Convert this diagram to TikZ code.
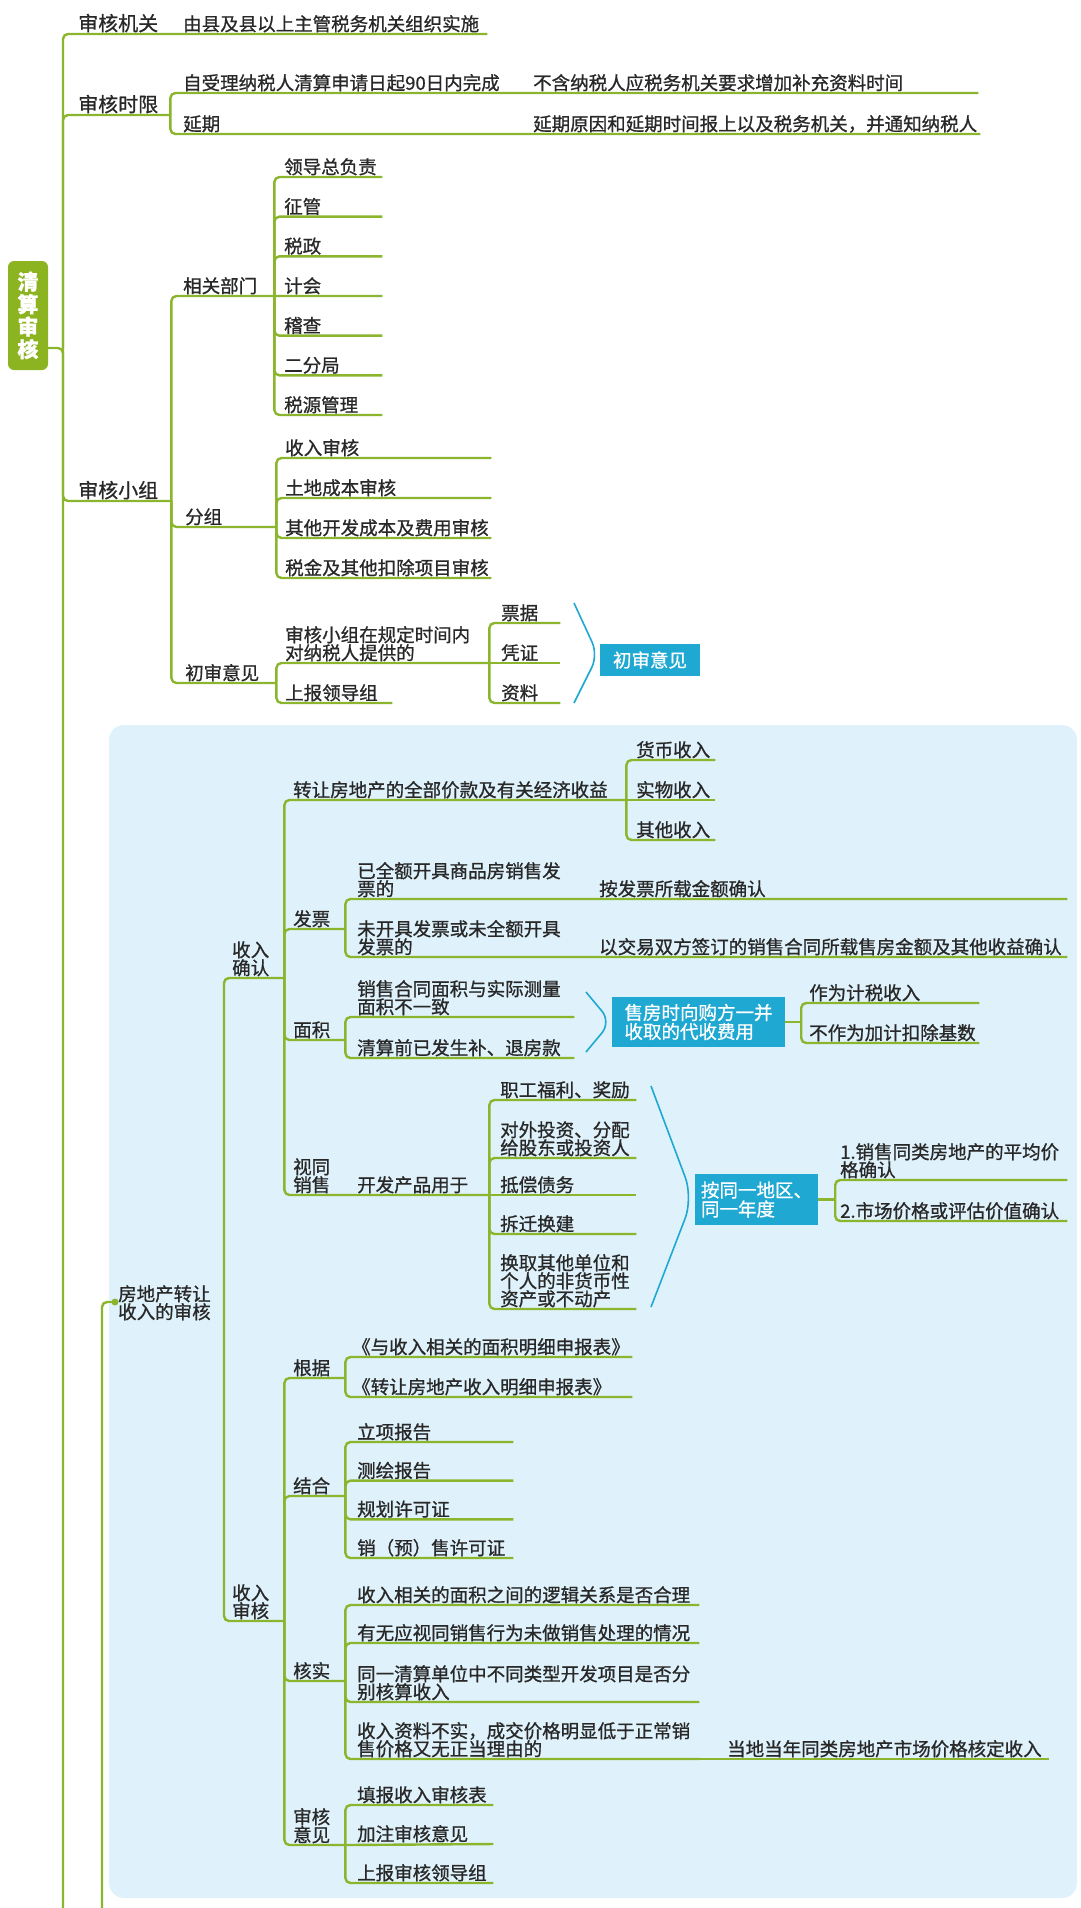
\documentclass[tikz,border=0pt]{standalone}
\usepackage{fontspec}
\newfontfamily\cjk[FakeBold=0.9]{Noto Sans CJK SC}

\definecolor{branchgreen}{RGB}{139,181,44}
\definecolor{rootgreen}{RGB}{139,180,32}
\definecolor{sumblue}{RGB}{30,168,210}
\definecolor{zonebg}{RGB}{223,242,251}
\definecolor{ink}{RGB}{40,40,40}

\newcommand\tb[2]{\parbox[b]{#1pt}{\raggedright #2}}

\tikzset{
	topic/.style={anchor=south west, inner xsep=0pt, inner ysep=3pt, text depth=0pt, text=ink, font=\cjk\fontsize{18.5}{18}\selectfont},
	maintopic/.style={topic, font=\cjk\fontsize{20}{20}\selectfont},
	branch/.style={draw=branchgreen, line width=2.4pt, rounded corners=5pt},
	summary/.style={fill=sumblue, text=white, inner sep=0pt, align=left, font=\cjk\fontsize{18.5}{19}\selectfont},
	brace/.style={draw=sumblue, line width=1.6pt, rounded corners=14pt},
}

\begin{document}
\begin{tikzpicture}[x=1pt,y=-1pt]
	\useasboundingbox (0,0) rectangle (1080,1908);
	\fill[zonebg, rounded corners=15pt] (109,725) rectangle (1077,1898);

	% root and trunk
	\node[fill=rootgreen, rounded corners=6pt, text=white, inner sep=0pt, minimum width=40pt, minimum height=109pt, align=center, font=\cjk\bfseries\fontsize{21}{22.5}\selectfont] (root) at (28,315.5) {清\\算\\审\\核};
	\coordinate (trunk) at (63,348);
	\coordinate (trunkend) at (63,1908);
	\draw[branch] (root.east |- trunk) -- (trunk) -- (trunkend);

	% 审核机关 / 审核时限
	\node[maintopic] (shjg) at (78,34) {\tb{92}{审核机关}};
	\node[topic] (shjg1) at (183,34) {\tb{304}{由县及县以上主管税务机关组织实施}};
	\node[maintopic] (shsx) at (78,115) {\tb{92}{审核时限}};
	\node[topic] (sx1) at (183,93) {\tb{337}{自受理纳税人清算申请日起90日内完成}};
	\node[topic] (sx1a) at (533,93) {\tb{445}{不含纳税人应税务机关要求增加补充资料时间}};
	\node[topic] (sx2) at (183,134) {\tb{337}{延期}};
	\node[topic] (sx2a) at (533,134) {\tb{447}{延期原因和延期时间报上以及税务机关，并通知纳税人}};
	\draw[branch] (trunk) |- (shjg.south east) -- (shjg1.south east);
	\draw[branch] (trunk) |- (shsx.south east);
	\draw[branch] (shsx.south east) |- (sx1.south east) -- (sx1a.south east);
	\draw[branch] (shsx.south east) |- (sx2.south east) -- (sx2a.south east);

	% 审核小组
	\node[maintopic] (shxz) at (78,501) {\tb{93}{审核小组}};
	\draw[branch] (trunk) |- (shxz.south east);
	\node[topic] (xgbm) at (183,296) {\tb{91}{相关部门}};
	\draw[branch] (shxz.south east) |- (xgbm.south east);
	\foreach \t [count=\i from 0] in {领导总负责,征管,税政,计会,稽查,二分局,税源管理} {
		\node[topic] (bm\i) at (284,177+39.67*\i) {\tb{98}{\t}};
		\ifnum\i=3
			\draw[branch] (xgbm.south east) -- (bm\i.south east);
		\else
			\draw[branch] (xgbm.south east) |- (bm\i.south east);
		\fi
	}
	\node[topic] (fz) at (185,527) {\tb{91}{分组}};
	\draw[branch] (shxz.south east) |- (fz.south east);
	\foreach \t [count=\i] in {收入审核,土地成本审核,其他开发成本及费用审核,税金及其他扣除项目审核} {
		\node[topic] (fz\i) at (285,418+40*\i) {\tb{206}{\t}};
		\draw[branch] (fz.south east) |- (fz\i.south east);
	}
	\node[topic] (cs) at (185,683) {\tb{91}{初审意见}};
	\draw[branch] (shxz.south east) |- (cs.south east);
	\node[topic] (cs1) at (285,663) {\tb{204}{审核小组在规定时间内\\对纳税人提供的}};
	\node[topic] (cs2) at (285,703) {\tb{107}{上报领导组}};
	\draw[branch] (cs.south east) |- (cs1.south east);
	\draw[branch] (cs.south east) |- (cs2.south east);
	\foreach \t [count=\i from 0] in {票据,凭证,资料} {
		\node[topic] (pj\i) at (501,623+40*\i) {\tb{59}{\t}};
		\ifnum\i=1
			\draw[branch] (cs1.south east) -- (pj\i.south east);
		\else
			\draw[branch] (cs1.south east) |- (pj\i.south east);
		\fi
	}
	\draw[brace] (574,603) -- (598,655) -- (574,703);
	\node[summary, minimum width=100pt, minimum height=32pt] (csbox) at (650,660) {初审意见};

	% 房地产转让收入的审核
	\node[topic] (fdc) at (118,1322) {\tb{95}{房地产转让\\收入的审核}};
	\coordinate (fdcin) at (102,1908);
	\draw[branch] (fdcin) |- ([xshift=-3pt]fdc.west);
	\fill[branchgreen] ([xshift=-3pt]fdc.west) circle (3.5pt);
	\coordinate (fdcj) at (224,1302);
	\node[topic] (sr) at (232,978) {\tb{52}{收入\\确认}};
	\node[topic] (sh) at (232,1621) {\tb{52}{收入\\审核}};
	\draw[branch] (fdcj) |- (sr.south east);
	\draw[branch] (fdcj) |- (sh.south east);

	% 收入确认
	\node[topic] (zr) at (293,800) {\tb{333}{转让房地产的全部价款及有关经济收益}};
	\draw[branch] (sr.south east) |- (zr.south east);
	\foreach \t [count=\i from 0] in {货币收入,实物收入,其他收入} {
		\node[topic] (hb\i) at (636,760+40*\i) {\tb{79}{\t}};
		\ifnum\i=1
			\draw[branch] (zr.south east) -- (hb\i.south east);
		\else
			\draw[branch] (zr.south east) |- (hb\i.south east);
		\fi
	}
	\node[topic] (fp) at (293,929) {\tb{52}{发票}};
	\node[topic] (fp1) at (357,899) {\tb{228}{已全额开具商品房销售发\\票的}};
	\node[topic] (fp1a) at (599,899) {\tb{468}{按发票所载金额确认}};
	\node[topic] (fp2) at (357,957) {\tb{228}{未开具发票或未全额开具\\发票的}};
	\node[topic] (fp2a) at (599,957) {\tb{468}{以交易双方签订的销售合同所载售房金额及其他收益确认}};
	\draw[branch] (sr.south east) |- (fp.south east);
	\draw[branch] (fp.south east) |- (fp1.south east) -- (fp1a.south east);
	\draw[branch] (fp.south east) |- (fp2.south east) -- (fp2a.south east);

	\node[topic] (mj) at (293,1040) {\tb{52}{面积}};
	\node[topic] (mj1) at (357,1017) {\tb{217}{销售合同面积与实际测量\\面积不一致}};
	\node[topic] (mj2) at (357,1058) {\tb{217}{清算前已发生补、退房款}};
	\draw[branch] (sr.south east) |- (mj.south east);
	\draw[branch] (mj.south east) |- (mj1.south east);
	\draw[branch] (mj.south east) |- (mj2.south east);
	\draw[brace] (586,992) -- (611,1022) -- (586,1052);
	\node[summary, minimum width=173pt, minimum height=50pt] (sfbox) at (698.5,1022) {售房时向购方一并\\收取的代收费用};
	\node[topic] (zw1) at (809,1003) {\tb{170}{作为计税收入}};
	\node[topic] (zw2) at (809,1043) {\tb{170}{不作为加计扣除基数}};
	\draw[branch] (sfbox.east) -- ++(16,0) coordinate (sfj);
	\draw[branch] (sfj) |- (zw1.south east);
	\draw[branch] (sfj) |- (zw2.south east);

	\node[topic] (st) at (293,1195) {\tb{52}{视同\\销售}};
	\node[topic] (kf) at (357,1195) {\tb{132}{开发产品用于}};
	\draw[branch] (sr.south east) |- (st.south east) -- (kf.south east);
	\foreach \uy/\t [count=\i] in {1100/职工福利、奖励, 1158/对外投资、分配\\给股东或投资人, 1195/抵偿债务, 1234/拆迁换建, 1309/换取其他单位和\\个人的非货币性\\资产或不动产} {
		\node[topic] (kf\i) at (500,\uy) {\tb{136}{\t}};
		\ifnum\i=3
			\draw[branch] (kf.south east) -- (kf\i.south east);
		\else
			\draw[branch] (kf.south east) |- (kf\i.south east);
		\fi
	}
	\draw[brace, rounded corners=22pt] (651,1086) -- (693,1198) -- (651,1307);
	\node[summary, minimum width=123pt, minimum height=51pt] (tqbox) at (756.5,1199.5) {按同一地区、\\同一年度};
	\node[topic] (tq1) at (840,1180) {\tb{227}{1.销售同类房地产的平均价\\格确认}};
	\node[topic] (tq2) at (840,1221) {\tb{227}{2.市场价格或评估价值确认}};
	\draw[branch] (tqbox.east) -- ++(17,0) coordinate (tqj);
	\draw[branch] (tqj) |- (tq1.south east);
	\draw[branch] (tqj) |- (tq2.south east);

	% 收入审核
	\node[topic] (gj) at (293,1378) {\tb{52}{根据}};
	\node[topic] (gj1) at (352,1357) {\tb{280}{《与收入相关的面积明细申报表》}};
	\node[topic] (gj2) at (352,1397) {\tb{280}{《转让房地产收入明细申报表》}};
	\draw[branch] (sh.south east) |- (gj.south east);
	\draw[branch] (gj.south east) |- (gj1.south east);
	\draw[branch] (gj.south east) |- (gj2.south east);

	\node[topic] (jh) at (293,1496) {\tb{52}{结合}};
	\draw[branch] (sh.south east) |- (jh.south east);
	\foreach \t [count=\i from 0] in {立项报告,测绘报告,规划许可证,销（预）售许可证} {
		\node[topic] (jh\i) at (357,1442+38.67*\i) {\tb{156}{\t}};
		\draw[branch] (jh.south east) |- (jh\i.south east);
	}

	\node[topic] (hs) at (293,1681) {\tb{52}{核实}};
	\draw[branch] (sh.south east) |- (hs.south east);
	\foreach \uy/\t [count=\i] in {1605/收入相关的面积之间的逻辑关系是否合理, 1643/有无应视同销售行为未做销售处理的情况, 1702/同一清算单位中不同类型开发项目是否分\\别核算收入, 1759/收入资料不实，成交价格明显低于正常销\\售价格又无正当理由的} {
		\node[topic] (hs\i) at (357,\uy) {\tb{342}{\t}};
		\draw[branch] (hs.south east) |- (hs\i.south east);
	}
	\node[topic] (hs4a) at (727,1759) {\tb{322}{当地当年同类房地产市场价格核定收入}};
	\draw[branch] (hs4.south east) -- (hs4a.south east);

	\node[topic] (yj) at (293,1845) {\tb{52}{审核\\意见}};
	\draw[branch] (sh.south east) |- (yj.south east);
	\foreach \t [count=\i from 0] in {填报收入审核表,加注审核意见,上报审核领导组} {
		\node[topic] (yj\i) at (357,1805+39*\i) {\tb{136}{\t}};
		\ifnum\i=1
			\draw[branch] (yj.south east) -- (yj\i.south east);
		\else
			\draw[branch] (yj.south east) |- (yj\i.south east);
		\fi
	}
\end{tikzpicture}
\end{document}
